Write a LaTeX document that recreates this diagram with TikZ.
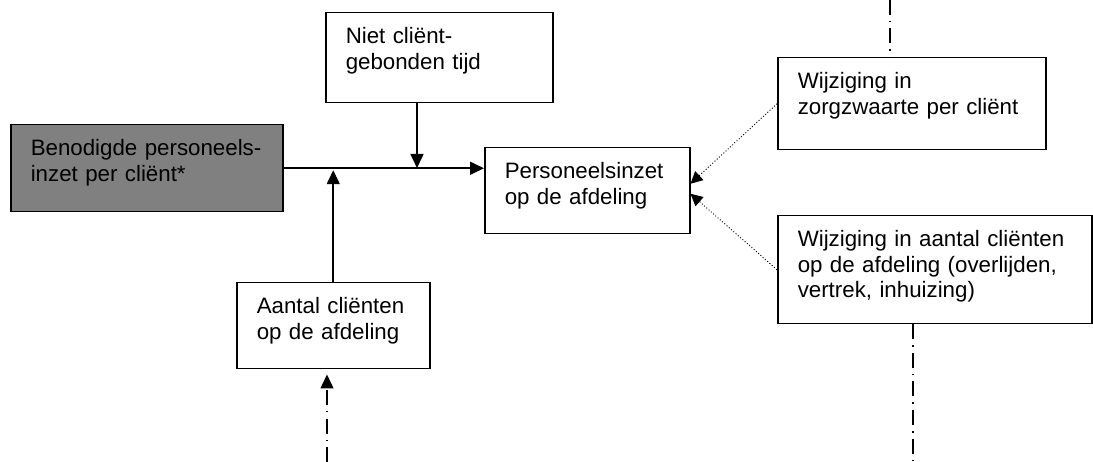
\documentclass[tikz,border=0pt]{standalone}
\usepackage{fontspec}
\setmainfont{Liberation Sans}
\usetikzlibrary{arrows.meta}
\definecolor{grijs}{gray}{0.5}
\begin{document}
\begin{tikzpicture}[x=1pt, y=-1pt,
        blok/.style={draw, line width=1.5pt, anchor=north west, align=left,
            font=\fontsize{22.3}{25.5}\selectfont, inner xsep=20pt, inner ysep=0pt, text height=31pt},
        pijl/.style={line width=1.6pt, -{Triangle[length=14pt, width=13pt]}},
        stip/.style={line width=0.9pt, dash pattern=on 1pt off 2pt, -{Triangle[length=12pt, width=12pt]}},
        streepstip/.style={line width=1.4pt, dash pattern=on 15pt off 6pt on 1.5pt off 6pt}]
    \useasboundingbox (0, 0) rectangle (1093, 462);
    \node [blok, fill=grijs, text width=232pt, text depth=56pt] (benodigd) at (10, 124) {Benodigde personeels-\\inzet per cliënt*};
    \node [blok, text width=187pt, text depth=59pt] (niet) at (325, 12) {Niet cliënt-\\gebonden tijd};
    \node [blok, text width=165pt, text depth=55pt] (inzet) at (484, 147) {Personeelsinzet\\op de afdeling};
    \node [blok, text width=153pt, text depth=55pt] (aantal) at (236, 282) {Aantal cliënten\\op de afdeling};
    \node [blok, text width=228pt, text depth=61pt] (zorg) at (777, 57) {Wijziging in\\zorgzwaarte per cliënt};
    \node [blok, text width=274pt, text depth=77pt] (wijz) at (777, 215) {Wijziging in aantal cliënten\\op de afdeling (overlijden,\\vertrek, inhuizing)};
    \coordinate (knoop) at (417, 168);
    \coordinate (boven) at (890, 0);
    \coordinate (onderlinks) at (327, 462);
    \coordinate (onderrechts) at (913, 462);
    \draw [pijl] (benodigd.east) -- (benodigd.east -| inzet.west);
    \draw [pijl] (niet.south -| knoop) -- (knoop);
    \draw [pijl, shorten >=2pt] (aantal.north) -- (aantal.north |- benodigd.east);
    \draw [stip] (zorg.west) -- ([yshift=7pt]inzet.east);
    \draw [stip] (wijz.west) -- ([yshift=-3pt]inzet.east);
    \draw [streepstip] (boven) -- (boven |- zorg.north);
    \draw [streepstip] (wijz.south -| onderrechts) -- (onderrechts);
    \draw [streepstip, -{Triangle[length=14pt, width=13pt]}, shorten >=5pt] (onderlinks) -- (aantal.south -| onderlinks);
\end{tikzpicture}
\end{document}
